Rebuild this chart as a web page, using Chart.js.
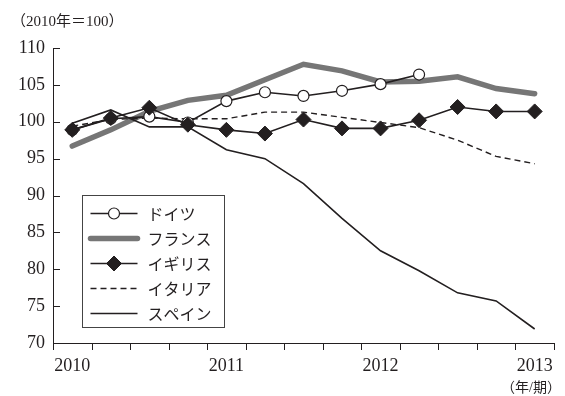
<!DOCTYPE html>
<html lang="ja">
<head>
<meta charset="utf-8">
<script src="https://cdn.jsdelivr.net/npm/chart.js@4.4.1/dist/chart.umd.min.js"></script>
<style>
  body { margin: 0; background: #fff; }
  #wrap { position: relative; width: 565px; height: 396px; }
  .note { position: absolute; font-family: "Liberation Serif", "Noto Sans CJK JP", serif; color: #231f20; white-space: nowrap; }
</style>
</head>
<body>
<div id="wrap">
  <canvas id="chart"></canvas>
  <div class="note" style="left:11px; top:9px; font-size:15px;">（2010年＝100）</div>
  <div class="note" style="right:4px; top:376px; font-size:14px;">（年/期）</div>
</div>
<script>
// quarterly, 2010 Q1 .. 2013 Q1 (year shown on Q1 only)
const quarters = ['2010', '', '', '', '2011', '', '', '', '2012', '', '', '', '2013'];
const names = ['ドイツ', 'フランス', 'イギリス', 'イタリア', 'スペイン'];
const germany = [98.9, 100.4, 100.7, 99.9, 102.8, 104.0, 103.5, 104.2, 105.1, 106.4, null, null, null];
const france  = [96.7, 98.9, 101.4, 102.9, 103.6, 105.7, 107.8, 106.9, 105.4, 105.5, 106.1, 104.5, 103.8];
const uk      = [98.9, 100.5, 101.9, 99.6, 98.9, 98.4, 100.3, 99.1, 99.1, 100.2, 102.0, 101.4, 101.4];
const italy   = [99.4, 100.3, 100.5, 100.4, 100.4, 101.3, 101.3, 100.6, 99.9, 99.2, 97.5, 95.3, 94.3];
const spain   = [99.8, 101.6, 99.3, 99.3, 96.2, 95.0, 91.6, 86.9, 82.5, 79.8, 76.8, 75.7, 71.9];
const yTicks = [70, 75, 80, 85, 90, 95, 100, 105, 110];

const ink = '#231f20';
const gray = '#767676';
const numFont = { family: '"Liberation Serif", "Noto Sans CJK JP", serif', size: 18 };

// inward y ticks, outward x ticks, and the boxed legend
const decor = {
  id: 'decor',
  afterDraw(chart) {
    const { ctx, chartArea, scales: { x, y } } = chart;
    ctx.save();
    ctx.strokeStyle = ink;
    ctx.lineWidth = 1;
    ctx.beginPath();
    yTicks.forEach(v => {
      const py = Math.round(y.getPixelForValue(v)) + 0.5;
      ctx.moveTo(chartArea.left, py);
      ctx.lineTo(chartArea.left + 7, py);
    });
    const step = x.getPixelForValue(1) - x.getPixelForValue(0);
    for (let i = 0; i <= quarters.length; i++) {
      const px = Math.round(x.getPixelForValue(0) - step / 2 + i * step) + 0.5;
      ctx.moveTo(px, chartArea.bottom);
      ctx.lineTo(px, chartArea.bottom + 7);
    }
    ctx.stroke();

    // legend box
    const bx = chartArea.left + 29.5, by = 195.5, bw = 142, bh = 132;
    ctx.fillStyle = '#fff';
    ctx.fillRect(bx, by, bw, bh);
    ctx.strokeStyle = '#444';
    ctx.strokeRect(bx, by, bw, bh);
    ctx.font = '16px "Noto Sans CJK JP", sans-serif';
    ctx.textBaseline = 'middle';
    names.forEach((name, i) => {
      const ds = chart.data.datasets.find(d => d.label === name);
      const ry = by + 18 + i * 25;
      const x0 = bx + 8, x1 = bx + 55;
      ctx.save();
      ctx.strokeStyle = ds.borderColor;
      ctx.lineWidth = ds.borderWidth;
      ctx.lineCap = ds.borderCapStyle || 'butt';
      ctx.setLineDash(ds.borderDash || []);
      ctx.beginPath();
      ctx.moveTo(x0, ry);
      ctx.lineTo(x1, ry);
      ctx.stroke();
      ctx.restore();
      if (ds.pointRadius > 0) {
        ctx.save();
        ctx.fillStyle = ds.pointBackgroundColor;
        ctx.strokeStyle = ds.pointBorderColor;
        ctx.lineWidth = ds.pointBorderWidth;
        Chart.helpers.drawPoint(ctx, { pointStyle: ds.pointStyle, radius: ds.pointRadius, rotation: 0, borderWidth: ds.pointBorderWidth }, (x0 + x1) / 2, ry);
        ctx.restore();
      }
      ctx.fillStyle = ink;
      ctx.fillText(name, bx + 65, ry);
    });
    ctx.restore();
  }
};

new Chart(document.getElementById('chart'), {
  type: 'line',
  data: {
    labels: quarters,
    datasets: [
      { label: names[2], data: uk, order: 0, borderColor: ink, borderWidth: 1.6,
        pointStyle: 'rectRot', pointRadius: 7.5, pointBackgroundColor: ink, pointBorderColor: ink, pointBorderWidth: 1 },
      { label: names[0], data: germany, order: 1, borderColor: ink, borderWidth: 1.6,
        pointStyle: 'circle', pointRadius: 5.5, pointBackgroundColor: '#fff', pointBorderColor: ink, pointBorderWidth: 1.2 },
      { label: names[3], data: italy, order: 2, borderColor: ink, borderWidth: 1.4, borderDash: [6, 4],
        pointRadius: 0 },
      { label: names[4], data: spain, order: 3, borderColor: ink, borderWidth: 1.6,
        pointRadius: 0 },
      { label: names[1], data: france, order: 4, borderColor: gray, borderWidth: 5.5, borderCapStyle: 'round',
        pointRadius: 0 }
    ]
  },
  options: {
    responsive: true,
    maintainAspectRatio: false,
    animation: false,
    spanGaps: false,
    layout: { padding: { left: 0, right: 6, top: 48, bottom: 21 } },
    plugins: { legend: { display: false }, tooltip: { enabled: false } },
    elements: { line: { tension: 0 }, point: { hoverRadius: 0 } },
    scales: {
      x: {
        offset: true,
        grid: { display: false, drawTicks: false },
        border: { display: true, color: ink, width: 1 },
        ticks: { autoSkip: false, maxRotation: 0, color: ink, font: numFont, padding: 12 },
        afterFit(scale) { scale.height = 32; }
      },
      y: {
        min: 70, max: 110,
        grid: { display: false, drawTicks: false },
        border: { display: true, color: ink, width: 1 },
        ticks: { stepSize: 5, color: ink, font: numFont, padding: 8 },
        afterFit(scale) { scale.width = 53; }
      }
    }
  },
  plugins: [decor]
});
</script>
</body>
</html>
